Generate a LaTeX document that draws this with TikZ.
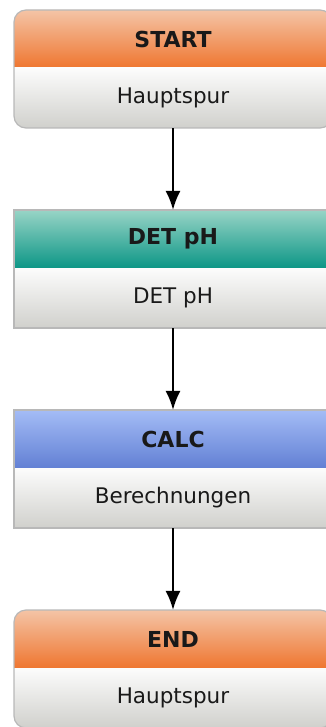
\documentclass[tikz,border=0pt]{standalone}
\usepackage{fontspec}
\setmainfont{DejaVu Sans}
\usetikzlibrary{arrows.meta}
\definecolor{orTop}{RGB}{244,196,166}
\definecolor{orBot}{RGB}{239,118,48}
\definecolor{tlTop}{RGB}{152,212,198}
\definecolor{tlBot}{RGB}{12,150,134}
\definecolor{blTop}{RGB}{164,188,246}
\definecolor{blBot}{RGB}{98,128,212}
\definecolor{bdTop}{RGB}{252,252,252}
\definecolor{bdBot}{RGB}{208,208,204}
\definecolor{frameGray}{RGB}{184,184,184}
\tikzset{headbox/.style={
  minimum width=318pt,minimum height=58pt,inner sep=0pt,
  font=\fontsize{22}{26}\selectfont\bfseries,text=black!90
  },
  bodybox/.style={
  minimum width=318pt,minimum height=60pt,inner sep=0pt,
  font=\fontsize{21.5}{26}\selectfont,text=black!90
  },
  frame/.style={frameGray,line width=1.2pt},
  my arrow/.style={
  black,line width=1.6pt,
  -{Latex[length=19pt,width=15pt]}
  }
}

\begin{document}
\begin{tikzpicture}[x=1pt,y=-1pt]
    \useasboundingbox (0,0) rectangle (326,727);
    \clip (0,0) rectangle (326,727);

    % one block per step: shaded title bar over a grey body
    \foreach \t/\hd/\bd/\ctop/\cbot/\r [count=\n] in {10/START/Hauptspur/orTop/orBot/12,210/DET pH/DET pH/tlTop/tlBot/0,410/CALC/Berechnungen/blTop/blBot/0,610/END/Hauptspur/orTop/orBot/12}
    {
        \begin{scope}
            \clip[rounded corners=\r pt] (14,\t) rectangle (332,\t+118);
            \shade[top color=\ctop,bottom color=\cbot] (14,\t) rectangle (332,\t+58);
            \shade[top color=bdTop,bottom color=bdBot] (14,\t+58) rectangle (332,\t+118);
        \end{scope}
        \draw[frame,rounded corners=\r pt] (14,\t) rectangle (332,\t+118);
        \node[headbox] (h\n) at (173,\t+29) {\hd};
        \node[bodybox] (b\n) at (173,\t+88) {\bd};
    }

    \foreach \n [evaluate=\n as \m using int(\n+1)] in {1,2,3}
        \draw[my arrow] (b\n.south) -- (h\m.north);
\end{tikzpicture}
\end{document}
